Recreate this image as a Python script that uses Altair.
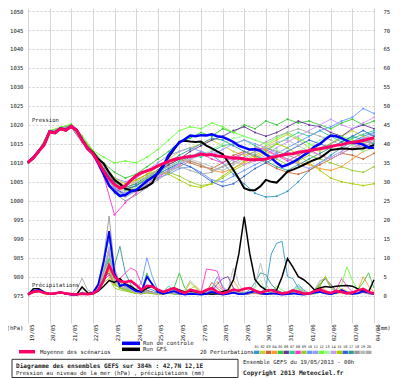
import altair as alt
import pandas as pd

# ---------------- data ----------------
HOURS_6 = list(range(0, 385, 6))
HOURS_12 = list(range(0, 385, 12))
DATE_LABELS = ['19/05', '20/05', '21/05', '22/05', '23/05', '24/05', '25/05', '26/05', '27/05',
               '28/05', '29/05', '30/05', '31/05', '01/06', '02/06', '03/06', '04/06']
MEMBERS = ['01', '02', '03', '04', '05', '06', '07', '08', '09', '10',
           '11', '12', '13', '14', '15', '16', '17', '18', '19', '20']
MEMBER_COLORS = ['#3399cc', '#cccc33', '#cc6633', '#ff9933', '#33cc33', '#663399', '#33cc99', '#ff33cc',
                 '#99cc33', '#6699ff', '#9999ff', '#66ff33', '#99ff99', '#cc99ff', '#aacc00', '#3366cc',
                 '#339999', '#999999', '#bbbbbb', '#aaaaaa']

# sea-level pressure of the 20 perturbations (hPa, every 12 h)
PRESS_PERT = [
    [1010.1, 1013.0, 1018.3, 1019.1, 1019.7, 1016.2, 1012.5, 1008, 1003, 1002, 1003.5, 1005, 1006.5, 1008, 1010, 1011.5, 1013, 1012, 1010, 1007, 1004.5, 1002, 1001, 1001.2, 1002.5, 1005, 1008, 1010, 1012, 1014, 1015.5, 1017, 1018],
    [1010.2, 1013.3, 1018.0, 1018.9, 1019.9, 1016.5, 1013, 1009, 1005, 1003, 1005, 1007, 1009, 1011, 1013, 1014, 1015, 1016, 1014.5, 1013, 1012, 1013, 1014.5, 1016, 1017.5, 1016, 1014, 1013, 1015, 1017, 1018.5, 1017, 1016],
    [1010.0, 1013.1, 1018.2, 1019.0, 1019.5, 1015.8, 1012.8, 1008.5, 1004, 1002.5, 1004, 1006, 1008, 1009.5, 1011, 1010, 1009, 1008.5, 1010, 1012, 1013, 1011.5, 1010, 1008.5, 1007.5, 1007, 1008, 1009.5, 1011, 1012.5, 1012, 1011, 1012.5],
    [1010.1, 1012.9, 1018.4, 1019.2, 1019.6, 1015.9, 1012, 1009, 1005.5, 1004, 1005.5, 1007, 1009, 1010, 1011, 1010.5, 1009.5, 1008, 1007.5, 1008.5, 1010, 1011.5, 1013, 1012, 1011, 1010, 1009.5, 1008.5, 1008, 1009, 1011, 1013, 1014],
    [1010.2, 1013.2, 1018.1, 1019.3, 1020.1, 1016.8, 1013.2, 1010, 1007.5, 1006, 1007, 1009, 1011, 1013, 1015.5, 1016.5, 1018, 1017, 1019, 1018, 1020, 1019, 1021, 1020, 1021.5, 1020.5, 1021, 1020, 1019, 1020.5, 1021.5, 1020, 1021],
    [1010.0, 1013.0, 1018.2, 1018.8, 1019.4, 1015.7, 1012.5, 1008, 1003.5, 1001.5, 1003, 1005, 1007.5, 1009.5, 1011, 1013, 1014.5, 1016, 1017, 1018.5, 1019.5, 1018, 1017, 1018, 1019.5, 1021, 1020, 1019.5, 1018, 1017, 1019, 1020, 1019],
    [1010.1, 1013.1, 1018.3, 1019.0, 1019.8, 1016.1, 1012.6, 1009, 1004.5, 1003, 1004, 1006, 1007.5, 1009, 1010.5, 1012, 1011.5, 1013, 1014.5, 1015, 1016, 1014.5, 1013, 1015, 1016.5, 1018, 1017, 1018.5, 1017, 1015.5, 1016.5, 1017.5, 1018.5],
    [1010.0, 1013.0, 1018.0, 1018.9, 1019.3, 1015.5, 1012, 1006.5, 996.3, 999.5, 1002, 1004.5, 1006, 1008, 1009.5, 1011, 1012.5, 1011, 1010, 1011.5, 1012.5, 1014, 1013.5, 1012, 1010.5, 1012, 1013.5, 1012, 1011, 1012.5, 1014, 1015, 1016],
    [1010.2, 1013.2, 1018.2, 1019.1, 1019.9, 1016.3, 1012.6, 1009, 1005, 1003.5, 1004.5, 1006, 1007, 1007.5, 1006.5, 1005, 1004, 1004.5, 1006, 1008, 1009.5, 1011, 1012.5, 1011, 1009.5, 1010.5, 1012, 1011, 1010, 1009, 1008, 1007.5, 1009],
    [1010.1, 1013.0, 1018.1, 1019.0, 1019.5, 1015.6, 1012.4, 1008, 1003, 1001.5, 1002.5, 1004, 1006, 1007, 1008.5, 1009, 1007.5, 1005.5, 1005, 1006.5, 1008, 1009.5, 1011, 1012.5, 1014, 1015.5, 1017, 1018.5, 1019.5, 1021, 1022, 1024.3, 1023],
    [1010.1, 1013.1, 1018.3, 1019.2, 1019.8, 1016.2, 1012.7, 1009.5, 1006, 1005, 1006, 1008, 1010, 1012, 1013, 1014, 1013, 1012, 1013.5, 1015, 1016, 1015, 1014, 1012.5, 1011, 1009.5, 1008.5, 1010, 1011.5, 1013, 1015, 1016.5, 1017.5],
    [1010.3, 1013.4, 1018.5, 1019.4, 1020.2, 1017.2, 1013.3, 1011.5, 1010, 1010.5, 1010, 1011.5, 1013.5, 1016, 1018.5, 1019.5, 1019, 1020.5, 1019.5, 1018, 1017, 1016, 1015, 1016.5, 1018, 1016.5, 1015, 1013.5, 1015, 1017, 1016, 1015, 1016.5],
    [1010.0, 1013.1, 1018.2, 1019.0, 1019.6, 1015.9, 1012.5, 1008.5, 1004, 1002.5, 1003.5, 1005, 1007, 1008.5, 1010, 1011, 1012, 1013.5, 1015, 1016.5, 1017, 1016, 1015, 1013.5, 1012, 1013, 1014.5, 1016, 1017.5, 1016, 1014.5, 1013, 1014],
    [1010.1, 1012.9, 1018.0, 1018.9, 1019.5, 1015.8, 1012.3, 1008, 1003.5, 1002, 1003, 1005, 1006.5, 1008, 1009.5, 1011, 1012, 1013, 1012, 1010.5, 1009.5, 1010.5, 1012, 1014, 1015.5, 1017, 1018.5, 1020, 1021.5, 1020, 1019, 1020.5, 1022],
    [1010.2, 1013.2, 1018.3, 1019.2, 1019.9, 1016.4, 1012.9, 1009.5, 1006, 1004.5, 1005.5, 1007, 1008, 1007, 1005.5, 1004, 1003.5, 1004.5, 1006.5, 1008.5, 1010.5, 1012, 1013.5, 1015, 1014, 1012, 1010, 1008, 1006, 1005, 1004.5, 1004, 1004.5],
    [1010.0, 1013.0, 1018.1, 1019.0, 1019.6, 1016.0, 1012.5, 1008.5, 1004.5, 1003, 1004, 1005.5, 1007, 1008.5, 1010, 1009, 1007, 1005, 1003.8, 1004.5, 1006.5, 1008.5, 1010, 1011.5, 1013, 1014.5, 1016, 1015, 1014, 1015.5, 1017, 1018.5, 1017],
    [1010.1, 1013.1, 1018.2, 1019.1, 1019.8, 1016.3, 1012.8, 1009, 1005, 1003.5, 1004.5, 1006.5, 1008, 1010, 1012, 1013.5, 1015, 1016.5, 1016, 1014.5, 1013, 1012, 1010.5, 1009, 1008, 1009.5, 1011, 1012.5, 1014, 1015.5, 1017, 1016, 1015],
    [1010.0, 1012.9, 1018.0, 1018.8, 1019.3, 1015.4, 1012, 1007.5, 1002, 1000, 1001.5, 1003.5, 1005.5, 1007.5, 1009, 1010.5, 1009.5, 1008, 1009, 1010, 1011.5, 1013, 1014, 1013, 1012, 1011, 1012.5, 1014, 1015, 1016.5, 1015, 1014, 1015.5],
    [1010.1, 1013.1, 1018.2, 1019.1, 1019.7, 1016.2, 1012.6, 1009, 1005.5, 1004, 1005, 1006.5, 1008, 1009, 1010, 1011, 1010, 1009, 1008, 1009.5, 1011, 1012.5, 1014, 1015.5, 1016, 1014.5, 1013, 1012, 1011, 1012.5, 1014, 1015.5, 1016],
    [1010.0, 1013.0, 1018.1, 1018.9, 1019.4, 1015.6, 1012.2, 1008, 1003, 1001, 1002.5, 1004.5, 1006.5, 1008, 1009, 1008, 1007, 1007.5, 1009, 1011, 1012.5, 1014, 1015.5, 1017, 1018, 1019, 1018, 1017, 1016, 1014.5, 1013.5, 1014.5, 1015.5],
]

# precipitation of the 20 perturbations (mm, every 6 h)
PRECIP_PERT = [
    [0.3, 1.1, 1.3, 0.7, 0.5, 0.6, 0.9, 0.5, 0.3, 0.3, 0.7, 0.4, 0.7, 1.8, 6.0, 12.0, 4.0, 2.5, 3.0, 2.0, 1.0, 0.8, 2.0, 1.5, 0.8, 0.5, 1.0, 1.5, 0.8, 0.4, 0.6, 0.5, 0.3, 0.6, 1.2, 0.8, 0.4, 0.8, 1.5, 0.9, 0.6, 1.0, 1.5, 0.8, 2.0, 11.0, 13.8, 14.3, 5.0, 4.5, 2.0, 1.0, 0.5, 0.8, 1.2, 0.6, 0.4, 0.7, 1.0, 0.6, 0.4, 0.6, 1.0, 0.7, 0.4],
    [0.3, 0.9, 1.2, 0.6, 0.4, 0.5, 0.8, 0.5, 0.3, 0.4, 0.9, 0.5, 0.8, 2.5, 8.0, 5.0, 2.5, 4.0, 2.0, 1.5, 0.8, 0.6, 1.5, 1.0, 0.6, 0.8, 1.2, 0.7, 0.5, 0.8, 1.8, 2.5, 1.2, 0.6, 0.5, 0.4, 0.3, 0.5, 0.8, 0.5, 0.4, 0.6, 1.2, 0.8, 0.5, 0.4, 0.6, 0.5, 0.3, 0.5, 1.0, 0.7, 0.4, 0.6, 1.5, 1.0, 0.5, 0.8, 2.0, 1.2, 0.6, 0.8, 1.0, 0.5, 0.3],
    [0.2, 0.8, 1.1, 0.6, 0.4, 0.6, 1.0, 0.6, 0.3, 0.3, 0.6, 0.4, 0.6, 1.5, 4.5, 9.0, 3.0, 2.0, 3.5, 2.5, 1.2, 0.8, 1.0, 0.7, 0.5, 0.4, 0.8, 0.6, 0.3, 0.5, 0.9, 0.6, 0.4, 1.0, 3.5, 2.0, 0.8, 0.5, 0.9, 0.6, 0.4, 0.5, 0.7, 0.4, 0.3, 0.5, 0.8, 0.5, 0.3, 0.6, 1.1, 0.7, 0.4, 0.5, 0.9, 0.6, 0.4, 0.8, 1.4, 0.9, 0.5, 0.7, 1.0, 0.6, 0.4],
    [0.3, 1.0, 1.4, 0.8, 0.5, 0.7, 1.0, 0.6, 0.4, 0.3, 0.8, 0.5, 0.8, 2.0, 5.5, 7.0, 3.5, 2.5, 2.0, 1.8, 1.0, 0.7, 1.2, 0.9, 0.6, 0.5, 0.7, 0.5, 0.4, 0.6, 1.0, 0.7, 0.5, 0.8, 2.0, 3.8, 1.5, 0.8, 4.0, 1.8, 0.8, 0.5, 0.6, 0.4, 0.3, 0.4, 0.6, 0.5, 0.4, 0.6, 0.9, 0.6, 0.5, 1.0, 2.5, 1.5, 0.6, 0.5, 0.8, 0.6, 0.4, 1.5, 5.0, 2.5, 1.0],
    [0.3, 1.0, 1.2, 0.7, 0.5, 0.6, 0.8, 0.5, 0.3, 0.3, 0.5, 0.4, 0.6, 1.5, 7.0, 10.0, 5.0, 3.0, 2.5, 1.5, 0.8, 1.5, 6.0, 2.5, 1.0, 0.7, 1.2, 2.0, 6.0, 2.0, 0.8, 0.5, 0.4, 0.5, 0.8, 0.6, 0.4, 0.6, 1.0, 0.7, 0.5, 0.8, 1.5, 1.0, 0.6, 0.5, 0.8, 0.6, 0.4, 0.5, 0.8, 0.5, 0.5, 1.0, 2.5, 5.0, 2.0, 0.8, 1.0, 0.6, 0.5, 1.5, 3.5, 6.0, 2.0],
    [0.3, 1.0, 1.3, 0.7, 0.5, 0.6, 0.9, 0.5, 0.3, 0.3, 0.6, 0.4, 0.7, 2.0, 5.0, 6.0, 3.0, 2.0, 1.5, 1.0, 0.6, 0.5, 0.8, 0.6, 0.4, 0.5, 0.7, 0.5, 0.3, 0.4, 0.6, 0.5, 0.4, 0.6, 1.5, 3.0, 4.5, 5.0, 2.0, 0.8, 0.5, 0.6, 1.0, 0.7, 0.5, 0.8, 1.2, 0.8, 0.4, 0.6, 1.2, 0.8, 0.6, 1.5, 3.0, 4.5, 3.0, 1.2, 0.8, 0.6, 0.5, 0.7, 1.2, 0.8, 0.5],
    [0.3, 0.9, 1.2, 0.6, 0.4, 0.6, 0.9, 0.6, 0.3, 0.4, 0.7, 0.4, 0.6, 1.8, 6.5, 8.0, 3.0, 2.0, 1.8, 1.2, 0.7, 0.6, 1.0, 0.8, 0.5, 1.0, 2.5, 1.5, 0.6, 0.4, 0.8, 0.6, 0.4, 0.5, 1.0, 0.7, 0.5, 0.8, 1.8, 1.0, 0.6, 0.5, 0.9, 0.6, 0.4, 0.6, 1.0, 0.7, 0.5, 1.5, 3.0, 1.5, 0.6, 0.5, 0.9, 0.6, 0.4, 0.6, 1.0, 0.7, 0.5, 0.8, 1.5, 1.0, 0.6],
    [0.3, 1.0, 1.2, 0.6, 0.4, 0.5, 0.8, 0.5, 0.3, 0.3, 0.6, 0.4, 0.6, 1.5, 4.0, 5.5, 3.0, 4.5, 6.0, 7.3, 6.5, 3.0, 1.5, 0.8, 0.5, 0.6, 1.0, 0.7, 0.4, 0.5, 0.8, 0.6, 0.8, 7.0, 6.8, 6.5, 2.0, 0.8, 0.6, 0.4, 0.3, 0.5, 0.8, 0.6, 0.4, 0.6, 1.0, 0.7, 0.5, 0.8, 1.5, 1.0, 0.6, 1.0, 2.0, 1.2, 0.8, 1.5, 4.5, 2.5, 1.0, 0.6, 0.8, 0.5, 0.4],
    [0.2, 0.8, 1.1, 0.6, 0.4, 0.5, 0.8, 0.5, 0.3, 0.3, 0.5, 0.3, 0.5, 1.2, 3.5, 4.5, 2.0, 1.5, 1.2, 0.9, 0.6, 0.5, 0.7, 0.5, 0.4, 0.4, 0.6, 0.4, 0.3, 0.5, 0.8, 0.5, 0.4, 0.6, 0.8, 0.5, 0.4, 0.5, 0.7, 0.5, 0.4, 0.6, 0.9, 0.6, 0.4, 0.5, 0.8, 0.5, 0.4, 0.6, 1.0, 0.7, 0.5, 0.7, 1.2, 0.8, 0.5, 0.7, 1.0, 0.7, 0.4, 0.6, 0.9, 0.6, 0.4],
    [0.3, 1.1, 1.4, 0.8, 0.5, 0.7, 1.0, 0.6, 0.4, 0.4, 0.8, 0.5, 0.7, 2.5, 9.0, 15.0, 5.0, 3.0, 2.5, 2.0, 1.5, 3.5, 10.0, 5.0, 1.5, 0.8, 1.0, 0.7, 0.5, 0.6, 0.9, 0.6, 0.4, 0.8, 2.0, 5.0, 2.5, 1.0, 0.8, 0.5, 0.4, 0.6, 1.0, 0.7, 0.5, 0.7, 1.2, 0.8, 0.5, 0.8, 1.5, 1.0, 0.6, 0.9, 1.8, 1.0, 0.6, 0.8, 1.2, 0.8, 0.5, 0.7, 1.0, 0.6, 0.4],
    [0.3, 1.0, 1.3, 0.7, 0.5, 0.6, 0.9, 0.5, 0.3, 0.3, 0.6, 0.4, 0.6, 2.0, 7.5, 11.0, 4.0, 2.5, 2.0, 1.5, 0.8, 0.6, 1.0, 0.8, 0.5, 0.6, 1.0, 0.7, 0.4, 0.5, 0.8, 0.6, 0.4, 0.6, 1.0, 0.7, 0.5, 0.8, 1.5, 1.0, 0.6, 0.8, 1.2, 0.8, 0.5, 0.6, 1.0, 0.7, 0.4, 1.0, 2.5, 1.5, 0.6, 0.7, 1.0, 0.7, 0.5, 0.8, 1.5, 1.0, 0.6, 0.7, 1.0, 0.7, 0.5],
    [0.3, 0.9, 1.2, 0.7, 0.4, 0.5, 0.8, 0.5, 0.3, 0.3, 0.6, 0.4, 0.5, 1.5, 5.5, 9.5, 3.0, 2.0, 1.5, 1.2, 0.7, 0.6, 1.0, 0.8, 0.5, 0.6, 0.8, 0.6, 0.4, 0.5, 0.8, 0.6, 0.4, 0.5, 0.8, 0.6, 0.4, 0.6, 1.0, 0.7, 0.5, 0.7, 1.0, 0.7, 0.5, 1.0, 2.5, 1.5, 0.6, 1.0, 2.0, 1.2, 0.6, 1.5, 3.5, 5.0, 2.0, 1.0, 3.0, 7.6, 4.0, 1.5, 1.0, 0.7, 0.5],
    [0.3, 1.0, 1.2, 0.7, 0.5, 0.6, 0.9, 0.5, 0.3, 0.4, 0.7, 0.4, 0.6, 1.8, 6.0, 9.0, 3.5, 2.5, 2.0, 1.5, 0.8, 0.6, 1.2, 0.8, 0.5, 0.6, 1.0, 0.7, 0.5, 0.7, 1.0, 0.6, 0.4, 0.6, 1.0, 0.7, 0.5, 0.7, 1.2, 0.8, 0.5, 0.8, 2.0, 4.0, 1.5, 0.8, 1.0, 0.7, 0.5, 0.7, 1.2, 0.8, 0.5, 0.7, 1.0, 0.6, 0.5, 0.8, 1.2, 0.8, 0.5, 0.8, 1.5, 1.0, 0.6],
    [0.3, 1.0, 1.3, 0.7, 0.5, 0.6, 0.9, 0.5, 0.3, 0.3, 0.6, 0.4, 0.6, 2.2, 7.0, 12.5, 4.5, 3.0, 2.5, 1.8, 1.0, 0.7, 1.2, 0.9, 0.5, 0.6, 0.9, 0.6, 0.4, 0.6, 0.8, 0.5, 0.4, 0.6, 1.2, 2.5, 1.5, 0.8, 1.0, 0.7, 0.5, 0.7, 1.0, 0.7, 0.5, 0.6, 0.9, 0.6, 0.4, 0.8, 1.5, 1.0, 0.6, 1.5, 4.0, 4.5, 2.0, 0.8, 1.0, 0.7, 0.5, 0.7, 1.2, 0.8, 0.5],
    [0.2, 0.9, 1.1, 0.6, 0.4, 0.5, 0.8, 0.5, 0.3, 0.3, 0.6, 0.3, 0.5, 1.5, 5.0, 6.5, 3.0, 2.0, 1.5, 1.0, 0.6, 0.5, 0.8, 0.6, 0.4, 0.5, 0.7, 0.5, 0.3, 1.0, 3.5, 2.0, 0.8, 0.5, 0.7, 0.5, 0.4, 0.6, 1.0, 0.7, 0.5, 0.7, 1.0, 0.7, 0.5, 0.6, 1.0, 0.7, 0.5, 0.7, 1.2, 0.8, 0.5, 1.2, 3.0, 5.0, 2.5, 1.0, 0.8, 0.6, 0.5, 0.7, 1.2, 0.8, 0.5],
    [0.3, 1.0, 1.3, 0.7, 0.5, 0.6, 0.9, 0.5, 0.3, 0.4, 0.7, 0.4, 0.7, 2.5, 8.5, 16.0, 5.0, 3.0, 2.5, 2.0, 1.2, 0.8, 1.2, 0.9, 0.6, 0.6, 0.9, 0.6, 0.4, 0.5, 0.7, 0.5, 0.3, 0.5, 0.8, 0.6, 0.4, 0.6, 0.9, 0.6, 0.4, 0.6, 0.9, 0.6, 0.4, 0.5, 0.8, 0.5, 0.4, 0.6, 1.0, 0.7, 0.5, 0.7, 1.0, 0.7, 0.5, 0.7, 1.0, 0.7, 0.5, 0.8, 1.2, 0.8, 0.5],
    [0.3, 1.0, 1.2, 0.7, 0.5, 0.6, 0.9, 0.5, 0.3, 0.3, 0.6, 0.4, 0.6, 2.0, 6.5, 9.5, 8.0, 13.0, 6.0, 3.0, 1.5, 0.8, 1.2, 0.9, 0.6, 0.6, 0.9, 0.6, 0.4, 0.6, 0.9, 0.6, 0.4, 0.6, 1.2, 1.0, 0.6, 0.8, 1.5, 1.0, 0.6, 1.5, 3.5, 6.0, 5.5, 3.0, 1.5, 0.8, 0.5, 0.7, 1.0, 0.7, 0.5, 0.7, 1.0, 0.7, 0.5, 0.7, 1.2, 0.8, 0.5, 0.7, 1.0, 0.7, 0.5],
    [0.3, 1.1, 1.3, 0.7, 0.5, 0.6, 0.9, 0.5, 0.3, 0.4, 0.7, 0.4, 0.7, 3.0, 10.0, 21.0, 7.0, 3.5, 2.5, 2.0, 1.2, 0.8, 1.2, 0.9, 0.5, 0.6, 0.9, 0.6, 0.4, 0.6, 0.9, 0.6, 0.4, 0.6, 1.0, 0.7, 0.5, 0.7, 1.2, 0.8, 0.5, 0.7, 1.0, 0.7, 0.5, 0.6, 1.0, 0.7, 0.4, 0.6, 1.0, 0.7, 0.5, 0.7, 1.2, 0.8, 0.5, 0.8, 1.2, 0.8, 0.5, 0.7, 1.0, 0.7, 0.4],
    [0.3, 1.0, 1.2, 0.6, 0.4, 0.5, 0.8, 0.5, 0.3, 0.3, 0.6, 0.4, 0.6, 2.0, 7.0, 13.0, 4.0, 2.5, 2.0, 1.5, 0.8, 0.6, 1.0, 0.8, 0.5, 0.6, 1.0, 0.7, 0.5, 1.5, 4.0, 2.5, 1.0, 0.6, 0.8, 0.5, 0.5, 1.5, 7.3, 3.0, 1.0, 0.8, 2.5, 8.6, 3.0, 1.0, 0.8, 0.6, 0.5, 0.7, 1.0, 0.7, 0.5, 0.7, 1.0, 0.7, 0.5, 0.7, 1.0, 0.7, 0.5, 0.7, 1.0, 0.7, 0.5],
    [0.3, 1.0, 1.2, 0.7, 0.5, 0.6, 0.9, 0.5, 0.3, 1.5, 4.6, 1.5, 0.8, 2.0, 6.0, 11.5, 4.0, 2.5, 2.0, 1.5, 0.8, 0.6, 1.0, 0.8, 0.5, 0.6, 0.9, 0.6, 0.4, 0.6, 0.9, 0.6, 0.4, 0.6, 1.0, 0.7, 0.5, 0.7, 1.2, 0.8, 0.5, 0.7, 1.0, 0.7, 0.5, 0.6, 1.0, 0.7, 0.4, 0.6, 1.0, 0.7, 0.5, 0.7, 1.0, 0.7, 0.5, 0.7, 1.0, 0.7, 0.5, 0.7, 1.0, 0.7, 0.5],
]

# ensemble mean, control run, GFS run (every 6 h)
MEAN_P = [1010.1, 1011.3, 1013.1, 1014.8, 1018.2, 1017.9, 1019.0, 1018.6, 1019.6, 1018.6, 1016.0, 1013.8,
          1012.4, 1010.3, 1007.8, 1005.8, 1004.3, 1003.3, 1003.9, 1005.4, 1006.6, 1007.4, 1007.9, 1008.4,
          1009.2, 1009.8, 1010.4, 1010.9, 1011.2, 1011.5, 1011.7, 1011.9, 1012.3, 1012.1, 1012.2, 1011.8,
          1011.7, 1011.5, 1011.2, 1011.3, 1011.0, 1010.8, 1010.8, 1010.9, 1011.0, 1011.4, 1011.7, 1012.0,
          1012.3, 1012.4, 1012.8, 1013.0, 1013.2, 1013.5, 1013.7, 1014.0, 1014.3, 1014.6, 1014.8, 1015.2,
          1015.4, 1015.6, 1015.9, 1016.3, 1016.6]
CTRL_P = [1010.2, 1011.4, 1013.2, 1014.9, 1018.3, 1018.0, 1019.1, 1018.7, 1019.7, 1018.7, 1016.1, 1013.7,
          1012.5, 1010.0, 1007.0, 1004.0, 1002.5, 1001.3, 1001.5, 1002.5, 1002.8, 1004.0, 1005.2, 1006.2,
          1007.2, 1009.0, 1012.0, 1013.8, 1015.3, 1016.2, 1017.2, 1017.0, 1017.3, 1017.2, 1017.5, 1017.0,
          1016.8, 1016.2, 1015.5, 1014.5, 1014.0, 1013.5, 1013.6, 1013.2, 1012.2, 1011.3, 1010.0, 1009.0,
          1009.5, 1010.2, 1011.0, 1012.0, 1013.0, 1014.3, 1015.0, 1016.2, 1017.2, 1017.0, 1016.5, 1015.8,
          1015.3, 1015.2, 1014.8, 1014.0, 1014.0]
GFS_P = [1010.0, 1011.2, 1013.0, 1014.7, 1018.1, 1017.8, 1018.9, 1018.5, 1019.5, 1018.5, 1016.1, 1014.0,
         1012.8, 1011.0, 1009.8, 1007.5, 1005.5, 1004.5, 1003.2, 1002.8, 1002.7, 1003.0, 1003.8, 1004.7,
         1007.5, 1009.5, 1011.5, 1013.5, 1015.6, 1015.8, 1015.6, 1015.5, 1015.6, 1014.5, 1013.8, 1013.0,
         1012.3, 1010.3, 1008.1, 1005.8, 1003.3, 1002.8, 1002.8, 1003.8, 1005.5, 1005.0, 1004.8, 1006.2,
         1007.7, 1008.2, 1008.8, 1009.5, 1010.2, 1010.8, 1011.3, 1012.3, 1013.4, 1013.6, 1013.8, 1013.7,
         1013.6, 1013.7, 1013.8, 1014.2, 1014.7]
MEAN_M = [0.3, 1.0, 1.2, 0.7, 0.5, 0.6, 0.9, 0.6, 0.4, 0.3, 0.5, 0.4, 0.6, 1.5, 4.0, 8.0, 5.0, 3.8, 3.6, 3.9,
          2.8, 1.5, 2.6, 2.4, 1.6, 1.0, 1.5, 2.0, 1.2, 0.7, 1.5, 1.2, 0.8, 1.5, 2.0, 1.0, 0.6, 1.0, 1.6, 1.3,
          1.8, 2.0, 1.3, 0.8, 1.2, 1.5, 1.0, 0.6, 0.8, 1.4, 1.0, 0.5, 0.6, 1.2, 1.6, 1.0, 0.7, 1.2, 1.0, 0.6,
          0.8, 1.4, 1.8, 1.0, 0.6]
CTRL_M = [0.4, 1.2, 1.5, 0.8, 0.5, 0.6, 0.9, 0.5, 0.3, 0.3, 0.6, 0.4, 0.8, 3.0, 9.0, 17.0, 6.0, 2.5, 3.0, 2.0,
          1.2, 1.0, 5.0, 3.0, 1.0, 0.5, 0.8, 1.2, 0.6, 0.3, 0.5, 0.4, 0.3, 0.5, 1.0, 0.6, 0.3, 0.5, 0.8, 0.4,
          0.5, 0.9, 1.2, 0.6, 0.4, 0.6, 0.5, 0.3, 0.4, 0.6, 0.4, 0.3, 0.5, 0.8, 1.0, 0.6, 0.4, 0.8, 1.5, 0.8,
          0.5, 0.6, 1.2, 0.8, 0.4]
GFS_M = [0.3, 1.8, 1.8, 1.0, 0.5, 0.6, 0.8, 0.5, 0.3, 0.3, 2.3, 0.8, 0.5, 1.2, 2.5, 4.0, 3.5, 4.5, 3.0, 2.5,
         1.5, 1.0, 2.0, 2.5, 1.5, 1.0, 1.5, 2.0, 1.5, 1.0, 1.2, 1.0, 0.8, 0.5, 0.4, 0.5, 1.1, 1.5, 4.2, 11.0,
         20.8, 11.2, 4.2, 2.5, 1.5, 1.4, 1.5, 5.0, 9.8, 7.5, 5.0, 4.2, 3.0, 1.5, 2.0, 2.4, 2.2, 2.5, 2.6, 2.7,
         2.5, 1.8, 1.1, 1.0, 4.2]

# ---------------- chart ----------------
FONT = 'DejaVu Sans Mono'
P_DOM = [967.8, 1050.8]
M_DOM = [P_DOM[0] - 975, P_DOM[1] - 975]

pert_p = pd.DataFrame([{'m': MEMBERS[i], 'h': h, 'v': v}
                       for i, s in enumerate(PRESS_PERT) for h, v in zip(HOURS_12, s)])
pert_m = pd.DataFrame([{'m': MEMBERS[i], 'h': h, 'v': v}
                       for i, s in enumerate(PRECIP_PERT) for h, v in zip(HOURS_6, s)])


def main_df(vals):
    return pd.DataFrame({'h': HOURS_6, 'v': vals})


label_expr = '[' + ','.join("'%s'" % d for d in DATE_LABELS) + '][round(datum.value/24)]'

xs = alt.X('h:Q', scale=alt.Scale(domain=[0, 384], nice=False, zero=False),
           axis=alt.Axis(values=list(range(0, 385, 24)), labelExpr=label_expr, labelAngle=270,
                         labelFont=FONT, labelFontSize=5.6, labelColor='#222', labelPadding=1,
                         labelOffset=3, grid=True, gridColor='#d6d6d6', gridWidth=1,
                         domain=False, ticks=False, title=None, labelOverlap=False))
yp = alt.Y('v:Q', scale=alt.Scale(domain=P_DOM, nice=False, zero=False),
           axis=alt.Axis(orient='left', values=list(range(975, 1051, 5)), format='d', labelFont=FONT,
                         labelFontSize=5.6, labelColor='#222', labelPadding=5, grid=True,
                         gridColor='#cfcfcf', gridDash=[2, 2], domain=False, ticks=False, title=None))
ym = alt.Y('v:Q', scale=alt.Scale(domain=M_DOM, nice=False, zero=False),
           axis=alt.Axis(orient='right', values=list(range(0, 76, 5)), format='d', labelFont=FONT,
                         labelFontSize=5.6, labelColor='#222', labelPadding=9, labelAlign='left',
                         grid=False, domain=False, ticks=False, title=None))
col = alt.Color('m:N', scale=alt.Scale(domain=MEMBERS, range=MEMBER_COLORS), legend=None)

pt = alt.OverlayMarkDef(size=4, filled=True, opacity=1)

press_group = alt.layer(
    alt.Chart(pert_p).mark_line(strokeWidth=0.9, point=pt).encode(x=xs, y=yp, color=col, detail='m:N'),
    alt.Chart(main_df(GFS_P)).mark_line(color='#000000', strokeWidth=2).encode(x=xs, y=yp),
    alt.Chart(main_df(CTRL_P)).mark_line(color='#0000ff', strokeWidth=2.5).encode(x=xs, y=yp),
    alt.Chart(main_df(MEAN_P)).mark_line(color='#ff0066', strokeWidth=3).encode(x=xs, y=yp),
)
prec_group = alt.layer(
    alt.Chart(pert_m).mark_line(strokeWidth=0.9).encode(x=xs, y=ym, color=col, detail='m:N'),
    alt.Chart(main_df(GFS_M)).mark_line(color='#000000', strokeWidth=1.5).encode(x=xs, y=ym),
    alt.Chart(main_df(CTRL_M)).mark_line(color='#0000ff', strokeWidth=1.8).encode(x=xs, y=ym),
    alt.Chart(main_df(MEAN_M)).mark_line(color='#ff0066', strokeWidth=2.6).encode(x=xs, y=ym),
)

DUMMY = pd.DataFrame({'a': [0]})


def txt(s, x, y, size=5.6, bold=False, align='left'):
    return alt.Chart(DUMMY).mark_text(text=s, font=FONT, fontSize=size,
                                      fontWeight='bold' if bold else 'normal', align=align,
                                      baseline='middle', color='#222').encode(
        x=alt.value(x), y=alt.value(y))


def hline(x1, x2, y, color, w):
    return alt.Chart(DUMMY).mark_rule(color=color, strokeWidth=w).encode(
        x=alt.value(x1), x2=alt.value(x2), y=alt.value(y))


annots = [
    txt('Pression', 4, 112),
    txt('Précipitations', 4, 277),
    txt('(hPa)', -13, 320, align='center'),
    txt('(mm)', 356, 320, align='center'),
    hline(-9, 7, 343.7, '#ff0066', 3.5),
    txt('Moyenne des scénarios', 12, 343.7),
    hline(94, 112, 335.3, '#0000ff', 3.5),
    txt('Run de controle', 115, 335.3),
    hline(94, 112, 341.3, '#000000', 3.5),
    txt('Run GFS', 115, 341.3),
    txt('20 Perturbations', 172, 343.7),
    alt.Chart(DUMMY).mark_rect(fill='white', stroke='#333', strokeWidth=1).encode(
        x=alt.value(-16), x2=alt.value(210), y=alt.value(351.3), y2=alt.value(369.5)),
    txt('Diagramme des ensembles GEFS sur 384h : 42,7N 12,1E', -12, 358, size=6.1, bold=True),
    txt('Pression au niveau de la mer (hPa) , précipitations (mm)', -12, 365.3),
    txt('Ensemble GEFS du 19/05/2013 - 00h', 215, 353.7),
    txt('Copyright 2013 Meteociel.fr', 215, 364.7, size=6.2, bold=True),
]
for i, (m, c) in enumerate(zip(MEMBERS, MEMBER_COLORS)):
    x0 = 226 + 5.9 * i
    annots.append(alt.Chart(DUMMY).mark_rect(fill=c).encode(
        x=alt.value(x0), x2=alt.value(x0 + 5.4), y=alt.value(342.7), y2=alt.value(346)))
    annots.append(txt(m, x0 + 2.7, 339.3, size=3.6, align='center'))

chart = alt.layer(press_group, prec_group, *annots).resolve_scale(y='independent').properties(
    width=346, height=315,
    padding={'left': 20, 'top': 0, 'right': 18, 'bottom': 55},
    autosize=alt.AutoSizeParams(type='none'),
    background='white',
).configure_view(stroke=None)

chart.save('out.html', embed_options={'renderer': 'svg', 'actions': False})
